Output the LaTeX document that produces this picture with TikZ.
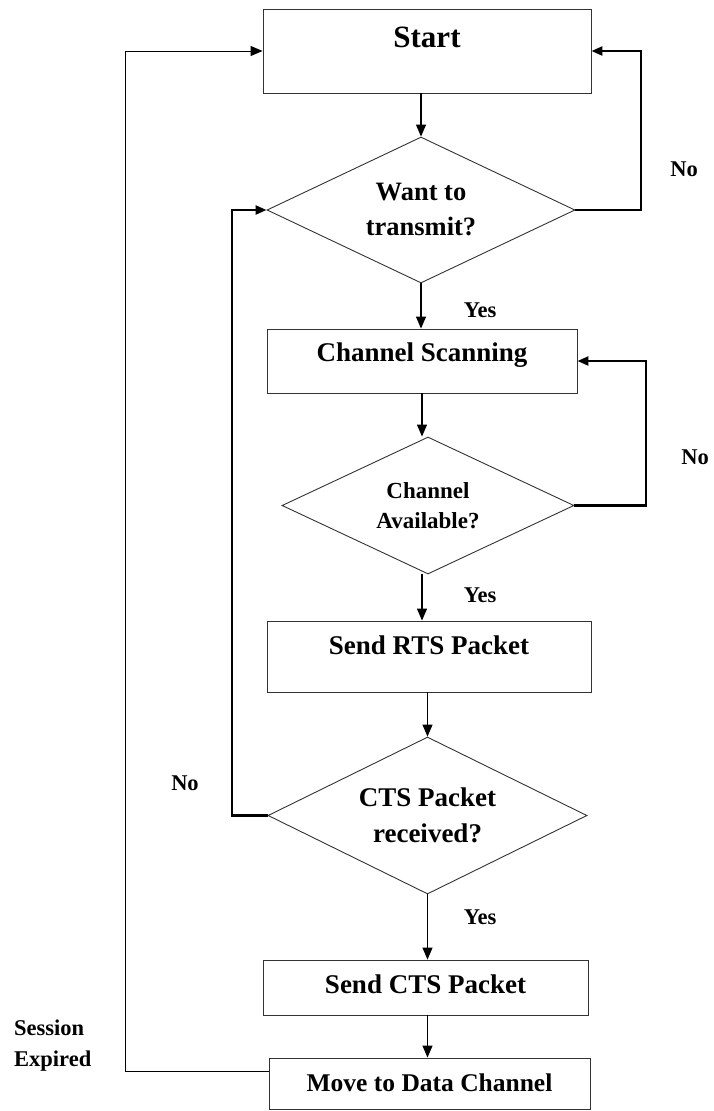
\documentclass[tikz,border=0pt]{standalone}
\usepackage{fontspec}
\setmainfont{Liberation Serif}
\usetikzlibrary{arrows.meta,shapes.geometric}
\begin{document}
\begin{tikzpicture}[x=1pt,y=-1pt,
  box/.style={draw=black!80, line width=0.9pt, rectangle, inner xsep=0pt, inner ysep=0pt},
  decision/.style={draw=black!80, line width=0.9pt, diamond, inner sep=0pt, align=center},
  flow/.style={line width=1.2pt, -{Triangle[length=12pt,width=10pt]}},
  loopback/.style={line width=2.3pt, -{Triangle[length=11pt,width=9pt]}},
  expire/.style={line width=1pt, -{Triangle[length=12pt,width=10pt]}},
  lbl/.style={font=\bfseries\fontsize{22.5}{31}\selectfont, inner sep=0pt}
]
\useasboundingbox (0,0) rectangle (714,1111);

% process boxes
\node[box, minimum width=328pt, text height=38pt, text depth=46pt,
      font=\bfseries\fontsize{31}{36}\selectfont] (start) at (427,51) {Start};
\node[box, minimum width=310pt, text height=32pt, text depth=32pt,
      font=\bfseries\fontsize{27}{32}\selectfont] (cs) at (422,361) {Channel Scanning};
\node[box, minimum width=324pt, text height=33pt, text depth=38pt,
      font=\bfseries\fontsize{27}{32}\selectfont] (rts) at (429,656.5) {Send RTS Packet};
\node[box, minimum width=325pt, text height=33pt, text depth=22pt,
      font=\bfseries\fontsize{27}{32}\selectfont] (scts) at (425.5,987.5) {Send CTS Packet};
\node[box, minimum width=321pt, text height=33pt, text depth=18pt,
      font=\bfseries\fontsize{25.5}{30}\selectfont] (move) at (429.5,1083.5) {Move to Data Channel};

% decisions
\node[decision, minimum width=308pt, minimum height=146pt, shape aspect=2.11,
      font=\bfseries\fontsize{26.5}{35}\selectfont] (d1) at (421,210) {Want to\\transmit?};
\node[decision, minimum width=292pt, minimum height=137pt, shape aspect=2.13,
      font=\bfseries\fontsize{23}{30}\selectfont] (d2) at (428,505.5) {Channel\\Available?};
\node[decision, minimum width=319pt, minimum height=157pt, shape aspect=2.03,
      font=\bfseries\fontsize{27}{36}\selectfont] (d3) at (427.5,815.5) {CTS Packet\\received?};

% return-path columns
\coordinate (r1) at (641,0);
\coordinate (r2) at (646,0);
\coordinate (l3) at (232,0);
\coordinate (l4) at (125,0);

% main flow
\draw[flow] (d1.north |- start.south) -- (d1.north);
\draw[flow] (d1.south) -- (d1.south |- cs.north);
\draw[flow] (cs.south) -- (cs.south |- d2.north);
\draw[flow] (d2.south -| cs.south) -- (rts.north -| cs.south);
\draw[flow] (rts.south -| d3.north) -- (d3.north);
\draw[flow] (d3.south) -- (d3.south |- scts.north);
\draw[flow] (scts.south -| d3.south) -- (move.north -| d3.south);

% loops back
\draw[loopback] (d1.east) -| (r1 |- start.east) -- (start.east);
\draw[loopback] (d2.east) -| (r2 |- cs.east) -- (cs.east);
\draw[loopback] (d3.west) -| (l3 |- d1.west) -- (d1.west);
\draw[expire] ([yshift=12.5pt]move.west) -| (l4 |- start.west) -- (start.west);

% branch labels
\node[lbl] (yes1) at (480,310) {Yes};
\node[lbl] (yes2) at (480,595) {Yes};
\node[lbl] (yes3) at (480,917) {Yes};
\node[lbl] (no1) at (684,169) {No};
\node[lbl] (no2) at (695,457) {No};
\node[lbl] (no3) at (185,783) {No};
\node[lbl, align=left, anchor=west] (sess) at (14,1045.5) {Session\\Expired};
\end{tikzpicture}
\end{document}
